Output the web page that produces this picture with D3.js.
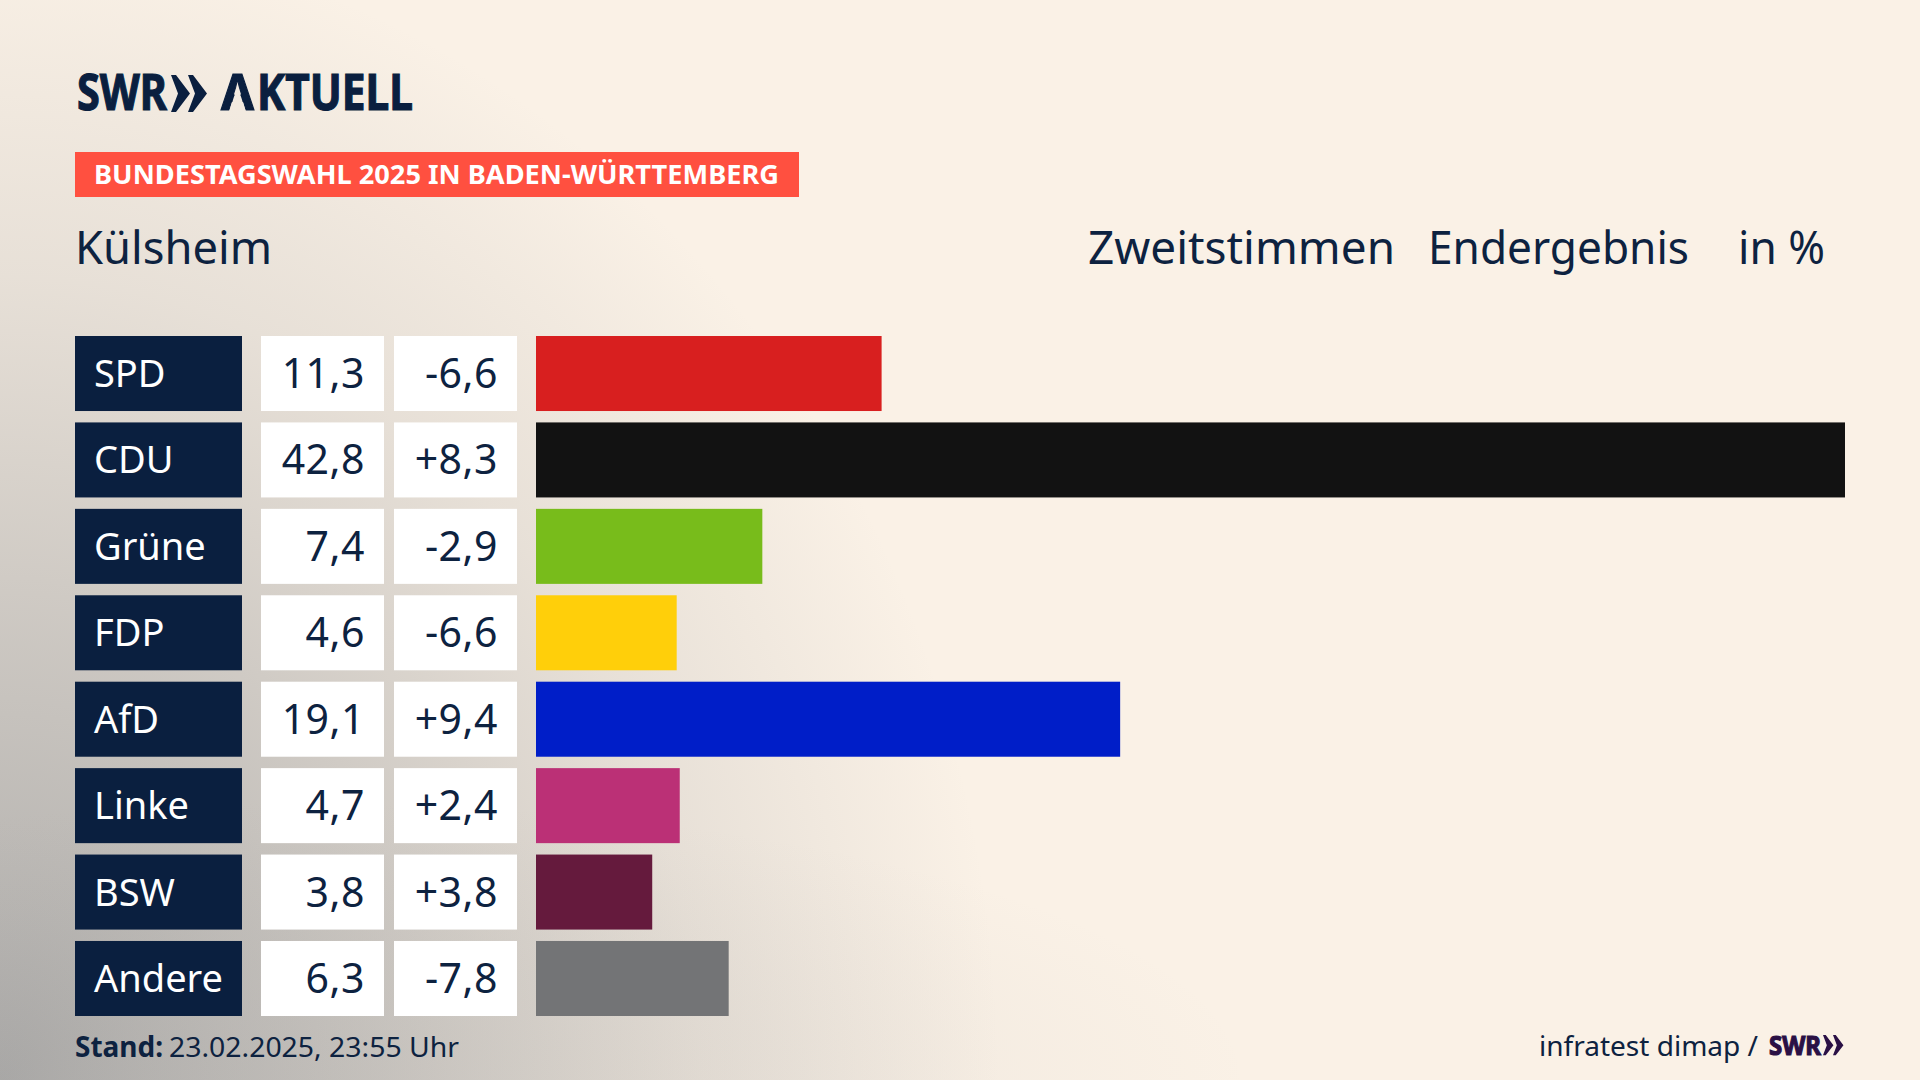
<!DOCTYPE html>
<html>
<head>
<meta charset="utf-8">
<script src="https://cdn.jsdelivr.net/npm/d3@7"></script>
<style>
    html, body { margin: 0; padding: 0; background: #faf1e6; }
    svg { display: block; }
    text { font-family: "Noto Sans", sans-serif; fill: #0d2240; }
</style>
</head>
<body>
<div id="render-here"></div>
<script>
const parties = ['SPD', 'CDU', 'Grüne', 'FDP', 'AfD', 'Linke', 'BSW', 'Andere'];
const shares = [11.3, 42.8, 7.4, 4.6, 19.1, 4.7, 3.8, 6.3];
const changes = [-6.6, 8.3, -2.9, -6.6, 9.4, 2.4, 3.8, -7.8];
const partyColors = ['#d81f1f', '#121212', '#78bc1b', '#ffcf0a', '#001ec8', '#bb3076', '#651a3d', '#737476'];

const width = 1920;
const height = 1080;
const navy = '#0a1f3f';
const chevron = 'M0,0 L5,0 L19,18.5 L5,37 L0,37 L7,18.5 Z';

const svg = d3.select('#render-here').append('svg')
    .attr('width', width)
    .attr('height', height)
    .attr('viewBox', `0 0 ${width} ${height}`);
const defs = svg.append('defs');

// background: warm beige with a grey haze out of the bottom left corner
function haze(id, transform, stops){
    const grad = defs.append('radialGradient')
        .attr('id', id)
        .attr('gradientUnits', 'userSpaceOnUse')
        .attr('cx', 0).attr('cy', 0).attr('r', 1)
        .attr('gradientTransform', transform);
    stops.forEach(([o, a]) => {
        grad.append('stop')
            .attr('offset', o)
            .attr('stop-color', '#9c9c9c')
            .attr('stop-opacity', a);
    });
    svg.append('rect').attr('width', width).attr('height', height).attr('fill', `url(#${id})`);
}
svg.append('rect').attr('width', width).attr('height', height).attr('fill', '#faf1e6');
haze('corner', `translate(0,${height}) scale(1000,1150)`, [[0, 0.85], [0.15, 0.7], [0.38, 0.5], [0.7, 0.2], [1, 0]]);
haze('floor', `translate(300,${height}) scale(950,280)`, [[0, 0.14], [0.5, 0.09], [1, 0]]);

const yScale = d3.scaleBand().domain(parties).range([336, 1016]).paddingInner(0.132);
const xScale = d3.scaleLinear().domain([0, 42.8]).range([536, 1845]);
const fmt = v => d3.format('.1f')(v).replace('.', ',').replace('−', '-');
const fmtChange = v => (v > 0 ? '+' : '') + fmt(v);

// squeeze a text to the measured width, the original face is narrower than ours
function label(g, str, x, y, size, w, opts = {}) {
    return g.append('text')
        .attr('x', x)
        .attr('y', y)
        .attr('font-size', size)
        .attr('font-weight', opts.weight || 400)
        .attr('text-anchor', opts.anchor || 'start')
        .attr('textLength', w)
        .attr('lengthAdjust', 'spacingAndGlyphs')
        .attr('stroke', opts.stroke || null)
        .attr('stroke-width', opts.stroke ? 1.2 : null)
        .style('fill', opts.fill || null)
        .text(str);
}

// header
const head = svg.append('g');
const logoStyle = {weight: 700, fill: navy, stroke: navy};
label(head, 'SWR', 77, 110, 50, 90, logoStyle);
head.selectAll('path.chevron')
    .data([0, 1])
    .enter().append('path')
    .attr('class', 'chevron')
    .attr('transform', d => `translate(${171 + d * 17},75)`)
    .attr('d', chevron)
    .attr('fill', navy);
// logo A has no crossbar, cut the counter down to the baseline
defs.append('clipPath').attr('id', 'noBar')
    .append('path')
    .attr('clip-rule', 'evenodd')
    .attr('d', 'M215,60 H260 V120 H215 Z M237.5,86 L229,112 L246,112 Z');
label(head, 'A', 221, 110, 50, 33, logoStyle).attr('clip-path', 'url(#noBar)');
label(head, 'KTUELL', 257, 110, 50, 156, logoStyle);

head.append('rect').attr('x', 75).attr('y', 152).attr('width', 724).attr('height', 45).attr('fill', '#ff5040');
label(head, 'BUNDESTAGSWAHL 2025 IN BADEN-WÜRTTEMBERG', 94, 184, 27, 685, {weight: 700, fill: '#fff'});

label(head, 'Külsheim', 75, 264, 45, 197);
label(head, 'Zweitstimmen', 1088, 264, 45, 307);
label(head, 'Endergebnis', 1428, 264, 45, 261);
label(head, 'in %', 1738, 264, 45, 87);

// rows
const rows = svg.append('g')
    .selectAll('g')
    .data(parties)
    .enter().append('g')
    .attr('transform', d => `translate(0,${yScale(d)})`);

const bh = yScale.bandwidth();
rows.append('rect').attr('x', 75).attr('width', 167).attr('height', bh).attr('fill', navy);
rows.append('rect').attr('x', 261).attr('width', 123).attr('height', bh).attr('fill', '#fff');
rows.append('rect').attr('x', 394).attr('width', 123).attr('height', bh).attr('fill', '#fff');
rows.append('rect')
    .attr('x', xScale(0))
    .attr('width', (d, i) => xScale(shares[i]) - xScale(0))
    .attr('height', bh)
    .attr('fill', (d, i) => partyColors[i]);

rows.append('text')
    .attr('x', 94).attr('y', 51)
    .attr('font-size', 38)
    .style('fill', '#fff')
    .text(d => d);
rows.append('text')
    .attr('x', 365).attr('y', 52)
    .attr('font-size', 41)
    .attr('letter-spacing', 0.5)
    .attr('text-anchor', 'end')
    .text((d, i) => fmt(shares[i]));
rows.append('text')
    .attr('x', 498).attr('y', 52)
    .attr('font-size', 41)
    .attr('letter-spacing', 0.5)
    .attr('text-anchor', 'end')
    .text((d, i) => fmtChange(changes[i]));

// footer
const foot = svg.append('g');
label(foot, 'Stand:', 75, 1057, 28, 88, {weight: 700});
label(foot, '23.02.2025, 23:55 Uhr', 169, 1057, 28, 290);
label(foot, 'infratest dimap /', 1539, 1056, 28, 219);
label(foot, 'SWR', 1769, 1055, 27, 52, {weight: 700, fill: '#2a1045', stroke: '#2a1045'});
foot.selectAll('path.chevron')
    .data([0, 1])
    .enter().append('path')
    .attr('class', 'chevron')
    .attr('transform', d => `translate(${1823 + d * 10},1035) scale(0.55)`)
    .attr('d', chevron)
    .attr('fill', '#2a1045');
</script>
</body>
</html>
